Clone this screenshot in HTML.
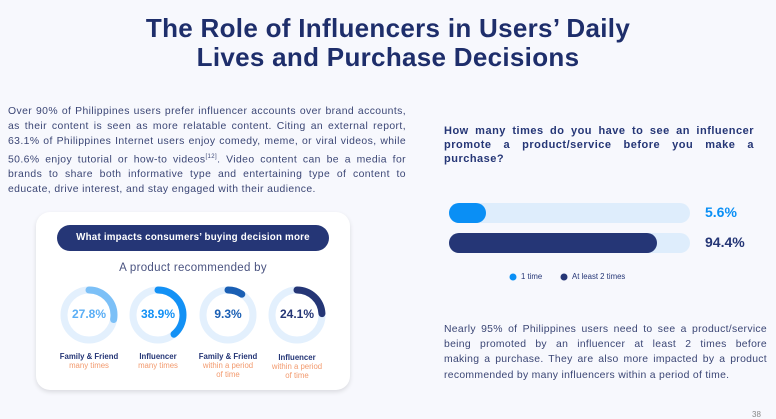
<!DOCTYPE html>
<html><head><meta charset="utf-8"><style>
*{margin:0;padding:0;box-sizing:border-box}
body{width:776px;height:418px;background:#f7f8fd;font-family:"Liberation Sans",sans-serif;position:relative;overflow:hidden;color:#2e3a6e}
.abs{position:absolute}
h1{position:absolute;left:0;width:776px;top:14px;text-align:center;font-size:26px;line-height:29px;font-weight:bold;color:#1e2e6b;letter-spacing:0.3px}
.p{font-size:10.4px;line-height:15.2px;text-align:justify;text-align-last:left;color:#3b4675;letter-spacing:0.4px}
.jl{display:block;text-align:justify;text-align-last:justify}
.card{left:36px;top:212px;width:314px;height:178px;background:#fff;border-radius:14px;box-shadow:0 2px 5px rgba(0,0,0,.12)}
.pill{left:57px;top:225px;width:272px;height:26px;background:#253676;border-radius:13px;color:#fff;font-size:9.8px;font-weight:bold;text-align:center;line-height:26px;letter-spacing:0.2px}
.lab{font-size:7.8px;text-align:center;width:80px;line-height:9px}
.lab b{color:#253676}
.lab span{color:#f29a6e}
.pct{font-size:12px;font-weight:bold;text-align:center;width:60px}
</style></head><body>
<h1>The Role of Influencers in Users’ Daily<br>Lives and Purchase Decisions</h1>
<div class="abs p" style="left:8px;top:104px;width:398px">Over 90% of Philippines users prefer influencer accounts over brand accounts, as their content is seen as more relatable content. Citing an external report, 63.1% of Philippines Internet users enjoy comedy, meme, or viral videos, while 50.6% enjoy tutorial or how-to videos<sup style="font-size:6px">[12]</sup>. Video content can be a media for brands to share both informative type and entertaining type of content to educate, drive interest, and stay engaged with their audience.</div>
<div class="abs card"></div>
<div class="abs pill">What impacts consumers’ buying decision more</div>
<div class="abs" style="left:36px;width:314px;top:262px;text-align:center;font-size:11.5px;color:#4a5380;letter-spacing:0.3px">A product recommended by</div>
<svg class="abs" style="left:0;top:0" width="776" height="418">
<g fill="none" stroke-width="7" stroke-linecap="round">
<circle cx="89" cy="315" r="25" stroke="#e3f0fd"/>
<circle cx="89" cy="315" r="25" stroke="#7cc0f7" stroke-dasharray="43.7 200" transform="rotate(-90 89 315)"/>
<circle cx="158" cy="315" r="25" stroke="#e3f0fd"/>
<circle cx="158" cy="315" r="25" stroke="#1391f5" stroke-dasharray="61.1 200" transform="rotate(-90 158 315)"/>
<circle cx="228" cy="315" r="25" stroke="#e3f0fd"/>
<circle cx="228" cy="315" r="25" stroke="#1a5fb4" stroke-dasharray="14.6 200" transform="rotate(-90 228 315)"/>
<circle cx="297" cy="315" r="25" stroke="#e3f0fd"/>
<circle cx="297" cy="315" r="25" stroke="#253676" stroke-dasharray="37.8 200" transform="rotate(-90 297 315)"/>
</g>
<g stroke-width="20" stroke-linecap="round">
<line x1="459" y1="213" x2="680" y2="213" stroke="#deedfc"/>
<line x1="459" y1="213" x2="476" y2="213" stroke="#0a8ff5"/>
<line x1="459" y1="243" x2="680" y2="243" stroke="#deedfc"/>
<line x1="459" y1="243" x2="647" y2="243" stroke="#253676"/>
</g>
<circle cx="513" cy="277" r="3.5" fill="#0a8ff5"/>
<circle cx="564" cy="277" r="3.5" fill="#253676"/>
</svg>
<div class="abs pct" style="left:59px;top:307px;color:#5aaef5">27.8%</div>
<div class="abs pct" style="left:128px;top:307px;color:#1391f5">38.9%</div>
<div class="abs pct" style="left:198px;top:307px;color:#1a5fb4">9.3%</div>
<div class="abs pct" style="left:267px;top:307px;color:#253676">24.1%</div>
<div class="abs lab" style="left:49px;top:352px"><b>Family &amp; Friend</b><br><span>many times</span></div>
<div class="abs lab" style="left:118px;top:352px"><b>Influencer</b><br><span>many times</span></div>
<div class="abs lab" style="left:188px;top:352px"><b>Family &amp; Friend</b><br><span>within a period<br>of time</span></div>
<div class="abs lab" style="left:257px;top:353px"><b>Influencer</b><br><span>within a period<br>of time</span></div>
<div class="abs" style="left:444px;top:124px;width:310px;font-size:11px;line-height:14px;font-weight:bold;color:#253676;text-align:justify;text-align-last:left;letter-spacing:0.5px">How many times do you have to see an influencer promote a product/service before you make a purchase?</div>
<div class="abs" style="left:705px;top:204px;font-size:14px;font-weight:bold;color:#0a8ff5">5.6%</div>
<div class="abs" style="left:705px;top:234px;font-size:14px;font-weight:bold;color:#253676">94.4%</div>
<div class="abs" style="left:521px;top:272px;font-size:7.8px;color:#253676">1 time</div>
<div class="abs" style="left:572px;top:272px;font-size:7.8px;color:#253676">At least 2 times</div>
<div class="abs p" style="left:444px;top:322px;width:323px;letter-spacing:0.3px"><span class="jl">Nearly 95% of Philippines users need to see a product/service</span><span class="jl">being promoted by an influencer at least 2 times before</span><span class="jl">making a purchase. They are also more impacted by a product</span><span style="display:block">recommended by many influencers within a period of time.</span></div>
<div class="abs" style="left:752px;top:410px;font-size:8px;color:#888">38</div>
</body></html>
